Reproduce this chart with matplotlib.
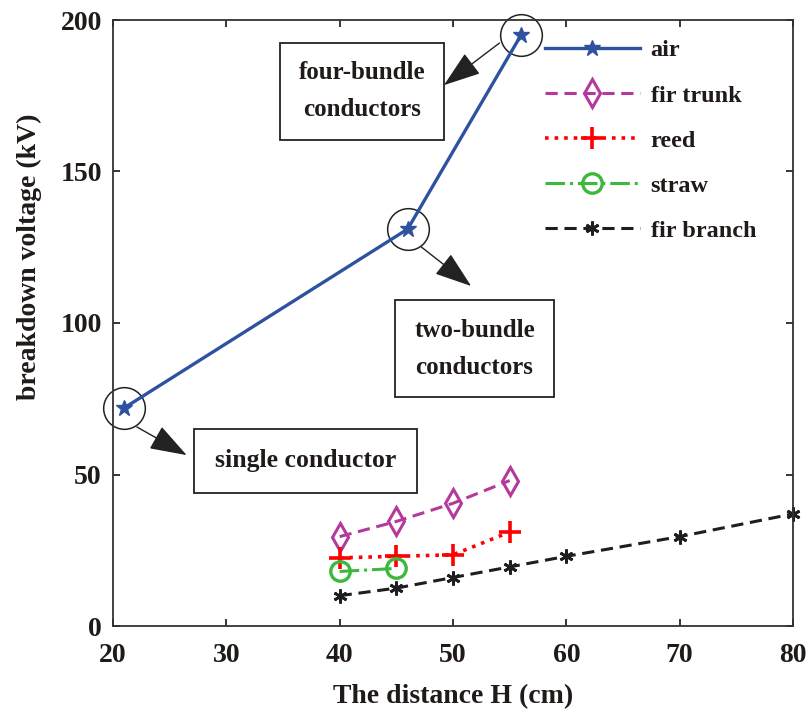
import matplotlib
matplotlib.use('Agg')
import matplotlib.pyplot as plt

plt.rcParams['font.family'] = ['Liberation Serif', 'DejaVu Serif']
plt.rcParams['font.weight'] = 'bold'
plt.rcParams['axes.labelweight'] = 'bold'

# breakdown voltage (kV) vs distance H (cm)
air_x = [21, 46, 56]
air_y = [72, 131, 195]
trunk_x = [40, 45, 50, 55]
trunk_y = [29.5, 34.5, 40.5, 48]
reed_x = [40, 45, 50, 55]
reed_y = [22.5, 23, 23.5, 31]
straw_x = [40, 45]
straw_y = [18, 19]
branch_x = [40, 45, 50, 55, 60, 70, 80]
branch_y = [10, 12.5, 16, 19.5, 23, 29.5, 37]

txtc = '#201a18'

fig = plt.figure(figsize=(8.11, 7.15), dpi=100)
ax = fig.add_axes([113/811, 1-626/715, 680/811, 606/715])

ax.plot(air_x, air_y, '-', color='#2f52a0', lw=2.4, marker='*', ms=12, label='air')
ax.plot(trunk_x, trunk_y, '--', color='#b5399d', lw=2.2, marker='d', ms=14, mfc='none', mew=2.2,
        dashes=(4, 2.2), label='fir trunk')
ax.plot(reed_x, reed_y, ':', color='#ff0000', lw=2.6, marker='+', ms=16, mew=2.6, label='reed')
ax.plot(straw_x, straw_y, '-.', color='#3cb83c', lw=2.2, marker='o', ms=14, mfc='none', mew=2.4,
        label='straw')
ax.plot(branch_x, branch_y, '--', color='#1e1e1e', lw=2.2, marker=(6, 2, 0), ms=10, mew=2,
        dashes=(4, 2.2), label='fir branch', clip_on=False)

# circles round the air points
ax.plot(air_x, air_y, 'o', ms=30, mfc='none', mec='#222222', mew=1.1, zorder=1, clip_on=False)

bbox = dict(boxstyle='square,pad=0.75', fc='white', ec='#222222', lw=1.3)
ax.text(42.0, 176.5, 'four-bundle\nconductors', ha='center', va='center', fontsize=18,
        color=txtc, bbox=bbox, linespacing=1.75)
ax.text(51.9, 91.5, 'two-bundle\nconductors', ha='center', va='center', fontsize=18,
        color=txtc, bbox=bbox, linespacing=1.75)
ax.text(37.0, 54.5, 'single conductor', ha='center', va='center', fontsize=18.5,
        color=txtc, bbox=dict(boxstyle='square,pad=0.8', fc='white', ec='#222222', lw=1.3))

aprops = dict(arrowstyle='-|>,head_length=1.3,head_width=0.45', color='#222222', lw=1.0,
              mutation_scale=18, shrinkA=0, shrinkB=0)
ax.annotate('', xy=(49.2, 178.5), xytext=(54.1, 192.4), arrowprops=aprops)
ax.annotate('', xy=(51.6, 112.2), xytext=(47.2, 125.1), arrowprops=aprops)
ax.annotate('', xy=(26.5, 56.4), xytext=(22.1, 65.7), arrowprops=aprops)

ax.set_xlim(20, 80)
ax.set_ylim(0, 200)
ax.set_xticks([20, 30, 40, 50, 60, 70, 80])
ax.set_yticks([0, 50, 100, 150, 200])
ax.tick_params(direction='in', top=True, right=True, length=5, width=1.1, labelsize=20,
               labelcolor=txtc)
ax.tick_params(axis='x', pad=12)
ax.tick_params(axis='y', pad=8)
for s in ax.spines.values():
    s.set_linewidth(1.3)
    s.set_color('#333333')

ax.set_xlabel('The distance H (cm)', fontsize=20, color=txtc, labelpad=12)
ax.set_ylabel('breakdown voltage (kV)', fontsize=20, color=txtc)
ax.yaxis.set_label_coords(-0.104, 0.61)

ax.legend(loc='upper left', bbox_to_anchor=(0.635, 0.968), frameon=False, fontsize=17.5,
          handlelength=3.9, handletextpad=0.45, labelspacing=0.95, borderpad=0, borderaxespad=0,
          labelcolor=txtc)

fig.savefig('out.png', dpi=100)
